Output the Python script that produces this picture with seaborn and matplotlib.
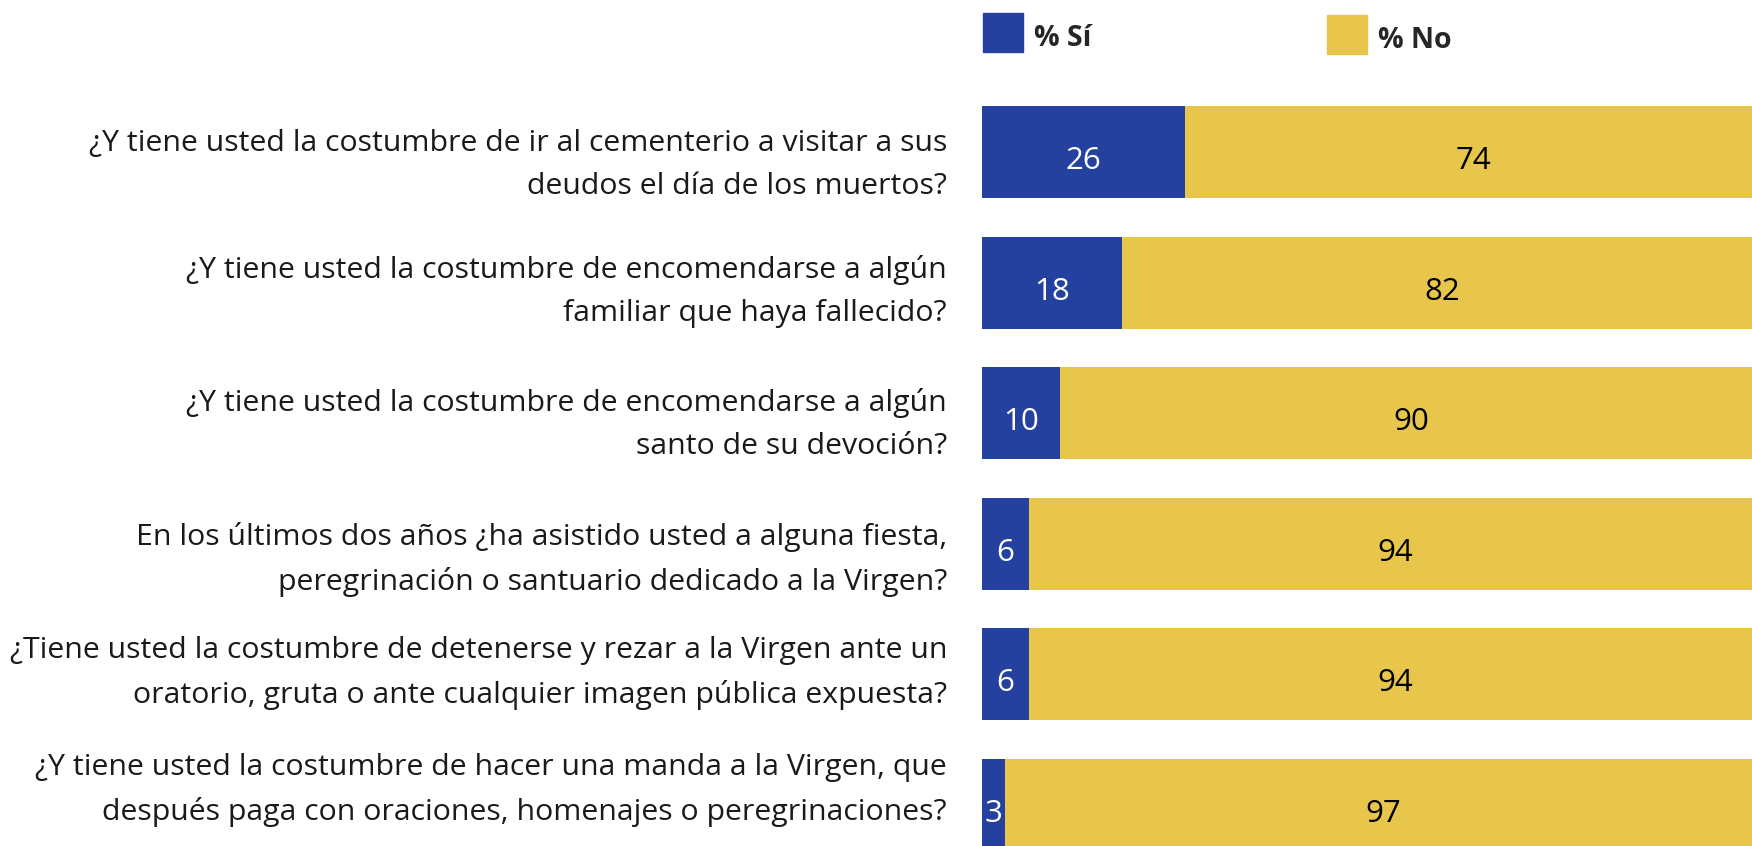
import matplotlib
matplotlib.use("Agg")
import matplotlib.pyplot as plt
import seaborn as sns
import pandas as pd
from matplotlib.patches import Rectangle

# survey questions (wrapped as in the original slide)
preguntas = [
    "¿Y tiene usted la costumbre de ir al cementerio a visitar a sus\ndeudos el día de los muertos?",
    "¿Y tiene usted la costumbre de encomendarse a algún\nfamiliar que haya fallecido?",
    "¿Y tiene usted la costumbre de encomendarse a algún\nsanto de su devoción?",
    "En los últimos dos años ¿ha asistido usted a alguna fiesta,\nperegrinación o santuario dedicado a la Virgen?",
    "¿Tiene usted la costumbre de detenerse y rezar a la Virgen ante un\noratorio, gruta o ante cualquier imagen pública expuesta?",
    "¿Y tiene usted la costumbre de hacer una manda a la Virgen, que\ndespués paga con oraciones, homenajes o peregrinaciones?",
]
pct_si = [26, 18, 10, 6, 6, 3]
pct_no = [74, 82, 90, 94, 94, 97]
series_names = ["% Sí", "% No"]

blue = "#2441A0"
yellow = "#E8C64C"

df = pd.DataFrame({"pregunta": preguntas, "si": pct_si, "no": pct_no})
df["total"] = df["si"] + df["no"]

sns.set_style("white")
plt.rcParams["font.family"] = ["Open Sans", "DejaVu Sans"]

fig = plt.figure(figsize=(17.52, 8.46), dpi=100)
W, H = 1752, 846
ax = fig.add_axes([982 / W, -24.3 / H, 780 / W, 783.6 / H])

# stacked bars: total in yellow, "Sí" drawn on top in blue
sns.barplot(data=df, y="pregunta", x="total", color=yellow, width=0.704,
            saturation=1, linewidth=0, ax=ax, orient="h")
sns.barplot(data=df, y="pregunta", x="si", color=blue, width=0.704,
            saturation=1, linewidth=0, ax=ax, orient="h")

ax.set_xlim(0, 100)
ax.set_ylim(5.5, -0.5)
ax.set_xlabel("")
ax.set_ylabel("")
ax.set_xticks([])
ax.set_yticklabels([])
ax.tick_params(axis="y", length=0)
sns.despine(ax=ax, left=True, bottom=True)

# question labels, right aligned left of the bars
# (the slide places them slightly off the bar centres)
label_dy = [13, 9, 11, 16, -1, -15]
for i, q in enumerate(preguntas):
    ax.annotate(q, xy=(0, i), xycoords=("axes fraction", "data"),
                xytext=(-35, -label_dy[i]), textcoords="offset pixels",
                ha="right", va="center", multialignment="right",
                fontsize=21.8, linespacing=1.65, color="#1a1a1a")

# value labels
for i, (s, n) in enumerate(zip(pct_si, pct_no)):
    ax.annotate(str(s), xy=(s / 2, i), xytext=(0, -9), textcoords="offset pixels",
                ha="center", va="center", color="white", fontsize=22.5)
    ax.annotate(str(n), xy=(s + n / 2, i), xytext=(0, -9), textcoords="offset pixels",
                ha="center", va="center", color="black", fontsize=22.5)

# legend at the top
for x0, y0, col, name in [(983, 13, blue, series_names[0]), (1327, 15, yellow, series_names[1])]:
    fig.patches.append(Rectangle((x0 / W, 1 - (y0 + 39) / H), 40 / W, 39 / H,
                                 transform=fig.transFigure, color=col))
    fig.text((x0 + 51) / W, 1 - (y0 + 25) / H, name, ha="left", va="center",
             fontsize=20.5, fontweight="bold")

fig.savefig("out.png", dpi=100)
